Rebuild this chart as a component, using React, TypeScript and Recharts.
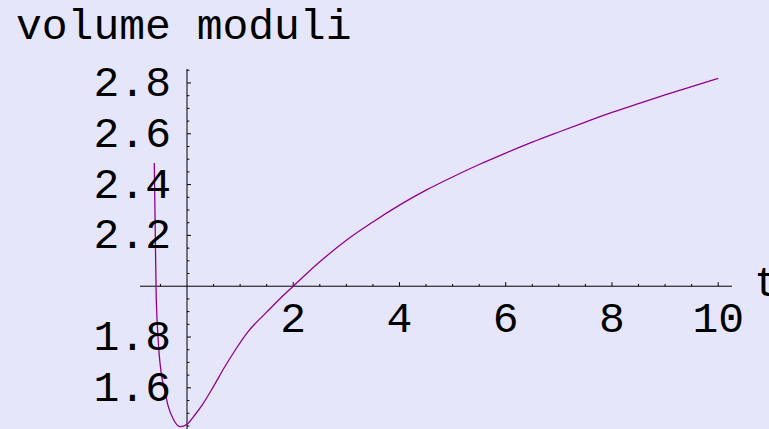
import { LineChart, Line, XAxis, YAxis, ReferenceLine, ReferenceDot } from 'recharts';

const title = 'volume moduli';
const axisName = 't';

// sampled curve
const tValues = [
  -0.616, -0.6, -0.582, -0.546, -0.484, -0.42, -0.358, -0.264, -0.13, 0, 0.15, 0.3, 0.5, 0.7, 0.9,
  1.15, 1.5, 1.75, 2.0, 2.5, 3.0, 3.5, 4.0, 4.5, 5.0, 5.5, 6.0, 6.5, 7.0, 7.5, 8.0, 8.5, 9.0, 9.5, 10.0,
];
const moduliValues = [
  2.485, 2.25, 1.984, 1.8, 1.656, 1.591, 1.531, 1.479, 1.447, 1.457, 1.494, 1.537, 1.606, 1.679, 1.746,
  1.821, 1.898, 1.951, 2.0, 2.096, 2.181, 2.253, 2.319, 2.378, 2.43, 2.479, 2.524, 2.567, 2.607, 2.646, 2.684,
  2.719, 2.753, 2.786, 2.818,
];

const xTickLabels = [2, 4, 6, 8, 10];
const yTickLabels = [1.6, 1.8, 2.2, 2.4, 2.6, 2.8];

const X_MIN = -0.885;
const X_MAX = 10.26;
const Y_MIN = 1.438;
const Y_MAX = 2.855;
const Y_CROSS = 2; // where the t axis crosses

const data = tValues.map((t, i) => ({ t, v: moduliValues[i] }));

// minor ticks every 0.5 in t and 0.05 in the moduli
const xMinor: number[] = [];
for (let i = -1; i <= 20; i++) {
  const t = i / 2;
  if (t !== 0 && !xTickLabels.includes(t)) xMinor.push(t);
}
const yMinor: number[] = [];
for (let i = 29; i <= 57; i++) {
  const v = i / 20;
  if (v !== Y_CROSS && !yTickLabels.some((y) => Math.abs(y - v) < 1e-9)) yMinor.push(v);
}

const FONT = '"Liberation Mono", "Courier New", monospace';
const FONT_SIZE = 43;
const BG = '#e6e6fa';
const CURVE = '#8f008f';

const txt = (s: string, dx: number, dy: number, anchor: 'start' | 'middle' | 'end') => (p: any) => {
  const vb = p.viewBox || {};
  return (
    <text x={vb.x + dx} y={vb.y + dy} textAnchor={anchor} fontFamily={FONT} fontSize={FONT_SIZE} fill="#000">
      {s}
    </text>
  );
};

export default function App() {
  return (
    <div style={{ position: 'fixed', left: 0, top: 0, width: 769, height: 429, background: BG, overflow: 'hidden' }}>
      <svg width={769} height={60} style={{ position: 'absolute', left: 0, top: 0 }}>
        <text x={16} y={39} fontFamily={FONT} fontSize={FONT_SIZE} fill="#000">
          {title}
        </text>
      </svg>
      <div style={{ position: 'absolute', left: 0, top: 0 }}>
        <LineChart width={769} height={429} data={data} margin={{ top: 69, right: 37, bottom: 0, left: 140 }}>
          <XAxis dataKey="t" type="number" domain={[X_MIN, X_MAX]} hide allowDataOverflow />
          <YAxis type="number" domain={[Y_MIN, Y_MAX]} hide allowDataOverflow />
          <ReferenceLine y={Y_CROSS} stroke="#000" strokeWidth={1} />
          <ReferenceLine x={0} stroke="#000" strokeWidth={1} />
          {xMinor.map((t) => (
            <ReferenceLine
              key={`xm${t}`}
              segment={[{ x: t, y: Y_CROSS }, { x: t, y: Y_CROSS + 0.009 }]}
              stroke="#000"
              strokeWidth={1}
            />
          ))}
          {xTickLabels.map((t) => (
            <ReferenceLine
              key={`xM${t}`}
              segment={[{ x: t, y: Y_CROSS }, { x: t, y: Y_CROSS + 0.016 }]}
              stroke="#000"
              strokeWidth={1}
            />
          ))}
          {yMinor.map((v) => (
            <ReferenceLine
              key={`ym${v}`}
              segment={[{ x: 0, y: v }, { x: 0.045, y: v }]}
              stroke="#000"
              strokeWidth={1}
            />
          ))}
          {yTickLabels.map((v) => (
            <ReferenceLine
              key={`yM${v}`}
              segment={[{ x: 0, y: v }, { x: 0.075, y: v }]}
              stroke="#000"
              strokeWidth={1}
            />
          ))}
          {xTickLabels.map((t) => (
            <ReferenceDot
              key={`xl${t}`}
              x={t}
              y={Y_CROSS}
              r={0}
              fill="none"
              stroke="none"
              label={{ content: txt(String(t), 0, 46, 'middle') }}
            />
          ))}
          {yTickLabels.map((v) => (
            <ReferenceDot
              key={`yl${v}`}
              x={0}
              y={v}
              r={0}
              fill="none"
              stroke="none"
              label={{ content: txt(v.toFixed(1), -16, 13, 'end') }}
            />
          ))}
          <ReferenceDot
            x={X_MAX}
            y={Y_CROSS}
            r={0}
            fill="none"
            stroke="none"
            ifOverflow="visible"
            label={{ content: txt(axisName, 22, 10, 'start') }}
          />
          <Line
            type="monotone"
            dataKey="v"
            stroke={CURVE}
            strokeWidth={1.3}
            dot={false}
            activeDot={false}
            isAnimationActive={false}
          />
        </LineChart>
      </div>
    </div>
  );
}
